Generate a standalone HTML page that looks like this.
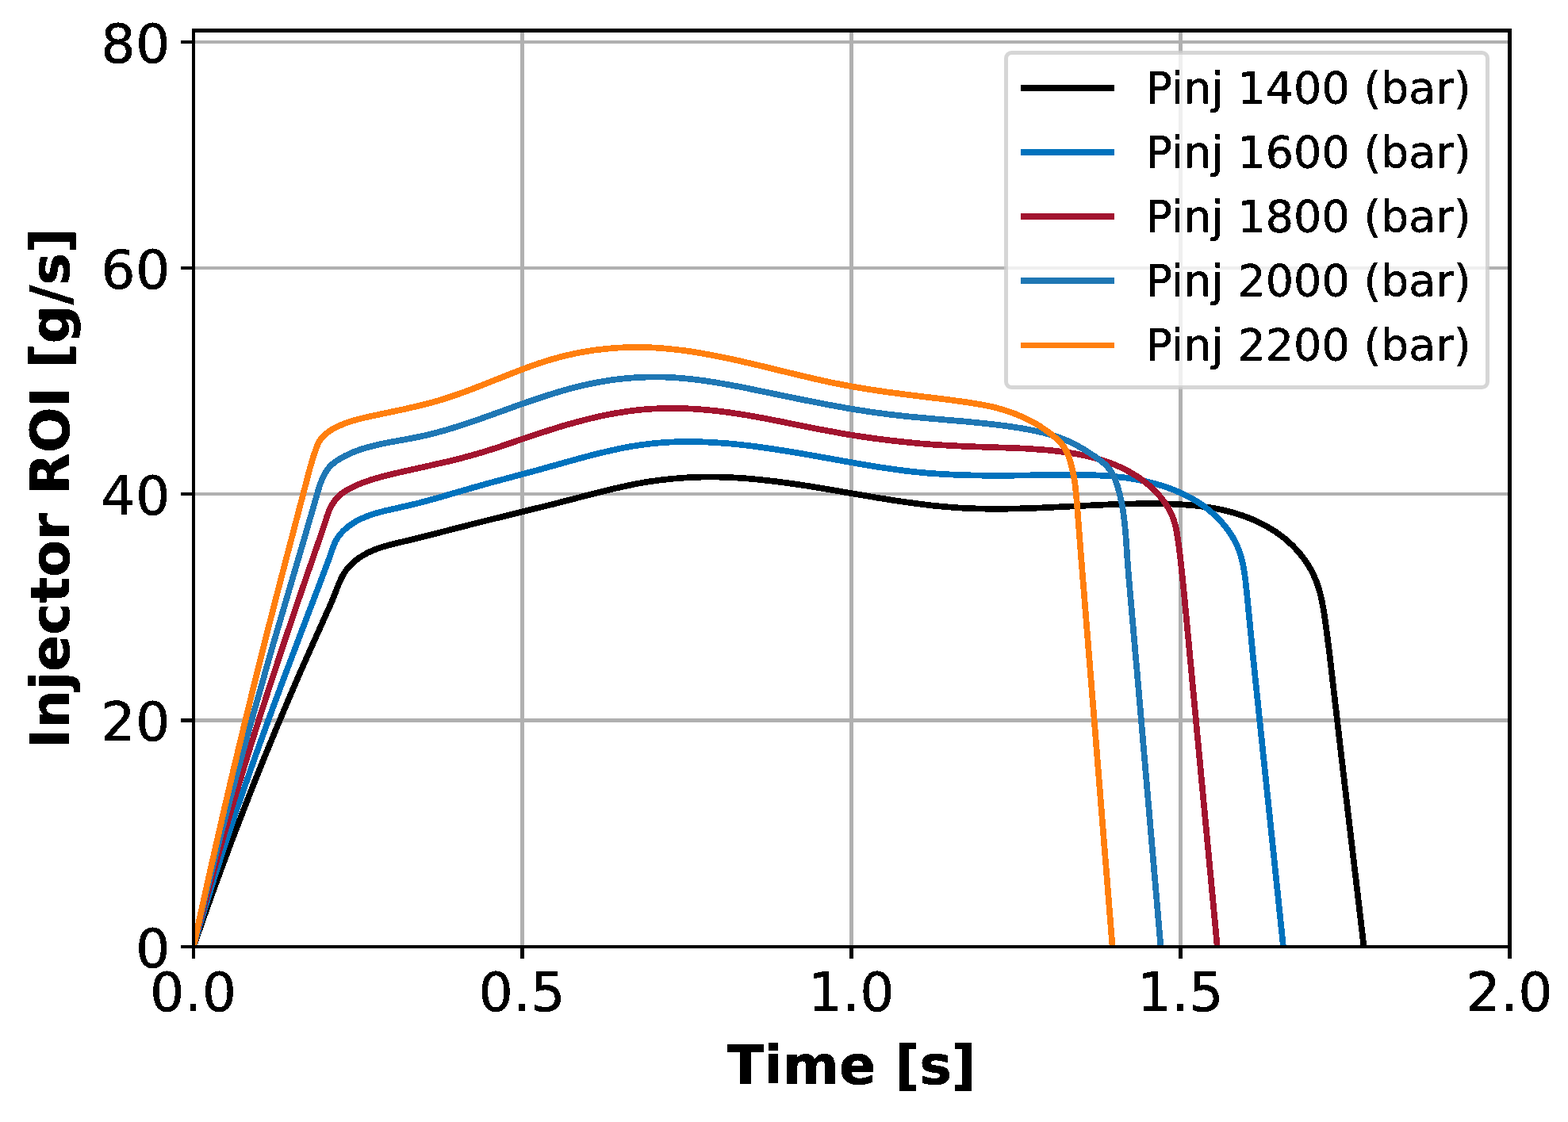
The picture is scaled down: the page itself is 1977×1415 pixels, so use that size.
<!DOCTYPE html>
<html lang="en"><head><meta charset="utf-8"><title>Injector ROI vs time</title>
<style>
html,body{margin:0;padding:0;background:#fff}
body{width:1977px;height:1415px;overflow:hidden}
svg{display:block}
text{font-family:"DejaVu Sans","Liberation Sans",sans-serif;fill:#000}
.b{font-weight:bold}
</style></head><body>
<svg width="1977" height="1415" viewBox="0 0 1977 1415" role="img" aria-label="Injector ROI [g/s] versus Time [s] for five injection pressures">
<rect width="1977" height="1415" fill="#fff"/>
<defs><filter id="hard" x="-5%" y="-20%" width="110%" height="140%" color-interpolation-filters="sRGB"><feComponentTransfer><feFuncA type="discrete" tableValues="0 1"/></feComponentTransfer></filter></defs>
<g fill="#b0b0b0" shape-rendering="crispEdges">
<rect x="656" y="36" width="5" height="1160"/>
<rect x="1071" y="36" width="5" height="1160"/>
<rect x="1486" y="36" width="5" height="1160"/>
<rect x="242" y="906" width="1664" height="5"/>
<rect x="242" y="621" width="1664" height="4"/>
<rect x="242" y="336" width="1664" height="4"/>
<rect x="242" y="51" width="1664" height="4"/>
</g>
<clipPath id="ax"><rect x="244.0" y="38.5" width="1659.5" height="1155.5"/></clipPath>
<g clip-path="url(#ax)" fill="none" stroke-width="7.7" stroke-linejoin="round" stroke-linecap="square" shape-rendering="crispEdges">
<path stroke="#000000" d="M244.0 1194.0L256.3 1158.6L268.4 1124.7L281.3 1089.5L293.9 1055.8L307.4 1020.8L320.5 987.3L333.9 953.9L347.6 920.6L363.3 883.3L379.3 846.1L392.7 816.0L417.2 761.3L421.2 751.6L426.7 737.5L429.7 730.6L431.7 726.6L433.2 724.0L436.4 719.1L440.1 714.5L442.2 712.4L445.4 709.3L448.8 706.5L453.6 703.0L458.7 699.8L464.0 696.9L469.5 694.4L475.1 692.2L480.8 690.2L486.6 688.5L496.8 685.8L517.4 680.9L533.4 677.0L581.1 664.7L604.2 658.8L697.5 635.8L752.7 621.5L771.6 616.8L789.1 612.9L803.7 609.9L818.5 607.4L833.4 605.3L848.3 603.7L864.8 602.4L879.8 601.7L896.3 601.5L905.2 601.6L915.7 601.9L935.1 602.9L956.0 604.7L978.3 607.2L999.2 610.0L1021.4 613.3L1045.2 617.3L1106.0 627.7L1125.3 630.8L1141.7 633.2L1161.0 635.8L1178.8 637.9L1195.2 639.4L1211.6 640.6L1228.0 641.3L1244.4 641.7L1262.3 641.8L1281.7 641.5L1298.2 641.0L1316.2 640.3L1376.2 637.3L1398.7 636.3L1419.7 635.6L1439.3 635.2L1458.8 635.2L1476.8 635.6L1491.8 636.4L1506.7 637.6L1515.6 638.7L1523.0 639.7L1530.4 640.9L1537.7 642.3L1545.0 644.0L1552.2 645.8L1559.3 647.9L1566.5 650.2L1573.5 652.8L1579.1 655.0L1585.9 658.1L1591.3 660.7L1597.9 664.3L1603.1 667.3L1608.2 670.6L1613.1 674.0L1619.1 678.6L1623.7 682.5L1629.2 687.6L1633.4 691.9L1638.5 697.6L1642.2 702.3L1645.8 707.1L1649.1 712.2L1652.2 717.3L1655.0 722.6L1657.5 728.0L1659.8 733.5L1661.8 739.1L1663.9 746.2L1665.4 752.0L1667.0 759.3L1668.9 769.6L1670.7 781.5L1673.5 802.4L1676.5 826.2L1691.0 951.3L1719.6 1194.0"/>
<path stroke="#0072bd" d="M244.0 1194.0L252.8 1163.8L262.0 1133.6L271.3 1103.6L281.4 1072.2L292.3 1039.5L303.4 1006.8L315.2 972.9L327.7 937.6L341.0 900.9L355.6 861.5L374.6 811.0L407.1 725.6L414.4 705.9L420.9 687.5L423.3 682.1L425.6 678.2L428.3 674.5L432.4 670.0L435.7 666.9L440.3 663.1L443.9 660.6L448.9 657.5L454.1 654.8L459.5 652.4L465.0 650.2L472.1 647.8L477.9 646.2L485.2 644.3L516.4 637.2L526.7 634.7L538.3 631.7L555.6 626.8L594.2 615.6L611.4 610.7L679.2 592.5L725.7 579.5L746.1 574.0L763.7 569.7L779.8 566.1L794.5 563.2L809.3 560.9L824.0 559.1L838.8 557.9L853.7 557.2L868.6 557.0L877.5 557.1L887.9 557.4L898.3 557.9L908.8 558.6L919.2 559.4L931.2 560.6L943.1 561.9L955.0 563.4L975.9 566.4L999.8 570.2L1023.6 574.3L1081.3 584.6L1110.7 589.5L1127.0 591.8L1141.7 593.8L1156.5 595.4L1169.9 596.7L1186.2 597.8L1202.7 598.7L1220.6 599.3L1240.1 599.7L1256.6 599.8L1276.2 599.7L1344.1 598.7L1357.6 598.7L1369.6 598.9L1383.1 599.4L1395.1 600.1L1406.9 601.1L1418.8 602.5L1427.6 603.8L1435.0 605.1L1443.7 606.9L1451.0 608.6L1459.7 611.0L1466.8 613.1L1473.9 615.6L1480.9 618.2L1487.8 621.2L1494.6 624.4L1501.2 627.8L1506.4 630.8L1512.7 634.8L1517.7 638.2L1522.5 641.9L1527.1 645.7L1531.6 649.7L1536.0 654.0L1540.1 658.4L1543.1 661.8L1546.8 666.5L1550.3 671.4L1553.6 676.4L1555.8 680.3L1558.5 685.6L1560.4 689.7L1562.0 693.8L1563.5 698.0L1564.8 702.3L1566.3 708.0L1567.6 713.9L1568.6 719.8L1570.3 731.7L1572.1 748.2L1579.8 827.2L1618.0 1194.0"/>
<path stroke="#a2142f" d="M244.0 1194.0L252.6 1160.6L261.9 1125.8L271.5 1091.1L281.7 1055.1L292.2 1019.1L303.4 981.8L315.3 943.1L327.5 904.4L343.6 854.5L361.1 801.8L381.8 740.7L403.8 677.1L412.8 649.8L414.9 644.1L417.4 638.7L418.9 636.2L420.5 633.7L422.2 631.3L424.1 629.0L426.1 626.8L428.2 624.8L431.6 621.9L435.2 619.4L440.4 616.4L445.8 613.7L452.7 610.6L459.7 607.9L468.2 605.0L478.3 602.0L491.4 598.6L509.0 594.5L563.1 582.4L580.5 578.1L596.4 573.8L609.3 570.0L625.0 565.1L671.9 549.2L691.9 542.7L710.5 536.9L727.9 532.0L743.8 527.9L759.9 524.2L774.5 521.4L789.3 519.0L804.1 517.1L817.5 515.9L831.0 515.2L846.0 514.9L855.1 515.0L864.1 515.2L873.1 515.6L883.6 516.3L892.6 517.1L903.1 518.2L913.6 519.4L924.0 520.9L941.7 523.6L962.3 527.3L981.4 531.0L1032.8 541.3L1060.8 546.5L1077.1 549.2L1095.0 551.9L1111.4 554.1L1129.3 556.2L1144.3 557.8L1160.7 559.4L1177.2 560.7L1193.6 561.7L1218.9 563.0L1278.5 565.0L1293.4 565.7L1306.9 566.6L1320.5 567.6L1332.5 568.9L1343.0 570.2L1353.5 571.8L1362.4 573.5L1369.7 575.0L1377.0 576.8L1384.2 578.8L1391.4 581.0L1398.4 583.4L1405.4 586.1L1412.2 589.0L1418.9 592.3L1424.2 595.1L1430.6 598.9L1435.7 602.1L1441.8 606.5L1446.5 610.2L1451.0 614.1L1455.4 618.2L1458.5 621.5L1461.6 624.8L1464.4 628.3L1467.2 631.9L1469.8 635.7L1472.3 639.5L1474.5 643.5L1476.6 647.5L1478.4 651.6L1479.5 654.4L1480.4 657.3L1481.7 661.5L1482.7 665.9L1483.6 670.3L1485.4 682.1L1487.4 696.9L1489.3 713.3L1491.2 731.2L1493.3 752.1L1506.3 890.9L1534.8 1194.0"/>
<path stroke="#1f77b4" d="M244.0 1194.0L252.2 1158.9L260.9 1122.5L270.3 1084.6L279.9 1046.9L290.2 1007.7L300.7 968.6L311.8 928.1L323.9 884.7L345.7 808.3L384.2 677.4L401.2 618.3L404.0 609.7L405.7 605.6L407.5 601.5L409.5 597.5L411.0 594.9L412.6 592.4L414.4 590.1L417.4 586.8L420.8 583.9L424.4 581.2L429.5 578.0L434.8 575.1L441.6 571.9L448.5 569.0L455.6 566.5L465.6 563.5L477.2 560.7L490.4 557.9L518.6 552.8L531.9 550.1L546.5 546.7L562.4 542.3L578.1 537.5L596.6 531.4L615.0 524.9L657.3 509.7L677.2 502.9L697.1 496.4L714.4 491.3L728.8 487.5L743.4 484.2L756.7 481.6L770.0 479.4L785.0 477.6L798.5 476.4L812.0 475.7L825.5 475.4L834.5 475.5L843.5 475.8L852.5 476.4L861.4 477.1L870.4 477.9L880.8 479.2L891.1 480.6L901.5 482.2L917.7 485.0L936.9 488.6L1010.4 503.8L1044.3 510.4L1060.5 513.4L1075.3 516.0L1090.0 518.3L1103.4 520.3L1124.1 523.0L1144.9 525.3L1165.8 527.2L1219.5 531.8L1248.0 534.7L1262.9 536.5L1276.4 538.3L1288.3 540.2L1300.2 542.4L1307.6 543.9L1314.9 545.6L1322.2 547.6L1327.9 549.3L1335.0 551.6L1340.5 553.7L1346.0 556.0L1351.4 558.4L1358.0 561.8L1364.5 565.5L1370.9 569.5L1379.8 575.3L1384.8 578.8L1389.7 582.5L1393.1 585.4L1396.2 588.6L1398.1 590.8L1399.9 593.2L1401.5 595.7L1403.7 599.5L1404.9 602.2L1406.7 606.3L1409.1 613.4L1411.9 623.6L1414.2 633.8L1416.2 645.6L1417.9 659.0L1419.4 675.4L1421.8 709.9L1423.7 733.8L1436.0 874.2L1463.5 1194.0"/>
<path stroke="#ff7f0e" d="M244.0 1194.0L253.5 1150.0L263.6 1104.6L273.5 1060.8L283.9 1015.5L294.5 970.2L305.4 925.0L316.4 879.8L327.6 834.7L339.3 788.2L351.6 740.3L390.7 590.8L394.9 576.4L398.8 565.0L401.1 559.5L402.4 556.8L404.0 554.4L406.8 551.0L410.0 547.9L413.5 545.1L417.2 542.5L422.5 539.5L427.9 536.9L433.4 534.5L439.1 532.4L449.1 529.4L459.2 526.8L471.0 524.2L509.2 516.1L529.6 511.4L545.6 507.3L559.9 503.1L575.5 497.9L592.4 491.8L607.8 485.8L645.5 470.8L663.7 463.8L680.7 457.8L696.5 452.9L709.5 449.4L722.7 446.3L736.0 443.7L749.4 441.6L762.8 440.0L776.3 438.8L789.7 438.1L803.2 437.9L812.2 438.0L822.6 438.4L831.5 438.9L841.9 439.8L852.3 440.9L862.6 442.1L873.0 443.6L883.3 445.3L903.9 449.1L927.4 454.0L953.8 460.1L1003.6 472.2L1025.6 477.4L1049.1 482.6L1069.7 486.6L1093.3 490.7L1118.4 494.4L1142.1 497.5L1197.1 504.3L1219.4 507.3L1235.8 510.0L1249.0 512.6L1256.3 514.4L1262.1 516.0L1269.3 518.2L1274.9 520.1L1282.0 522.8L1287.5 525.1L1294.3 528.3L1299.7 531.0L1306.2 534.6L1311.4 537.7L1317.6 541.9L1322.5 545.4L1327.2 549.1L1331.7 552.9L1336.0 557.0L1339.0 560.4L1340.7 562.7L1342.4 565.2L1343.8 567.7L1345.2 570.4L1347.5 576.0L1349.8 583.2L1352.1 591.9L1353.9 600.8L1355.5 611.1L1356.9 623.0L1357.9 634.9L1362.6 696.2L1375.5 856.2L1402.6 1194.0"/>
</g>
<g fill="#000" shape-rendering="crispEdges">
<rect x="242" y="1196" width="4" height="13"/>
<rect x="656" y="1196" width="5" height="13"/>
<rect x="1071" y="1196" width="5" height="13"/>
<rect x="1486" y="1196" width="5" height="13"/>
<rect x="1901" y="1196" width="5" height="13"/>
<rect x="228" y="1192" width="14" height="4"/>
<rect x="228" y="906" width="14" height="5"/>
<rect x="228" y="621" width="14" height="4"/>
<rect x="228" y="336" width="14" height="4"/>
<rect x="228" y="51" width="14" height="4"/>
<rect x="242" y="36" width="4" height="1160"/>
<rect x="1901" y="36" width="5" height="1160"/>
<rect x="242" y="36" width="1664" height="5"/>
<rect x="242" y="1192" width="1664" height="4"/>
</g>
<g font-size="68.2px" letter-spacing="0.3" filter="url(#hard)" stroke="#000" stroke-width="0.5">
<text x="243.7" y="1274.7" text-anchor="middle">0.0</text>
<text x="658.2" y="1274.7" text-anchor="middle">0.5</text>
<text x="1073.2" y="1274.7" text-anchor="middle">1.0</text>
<text x="1488.2" y="1274.7" text-anchor="middle">1.5</text>
<text x="1903.2" y="1274.7" text-anchor="middle">2.0</text>
<text x="214.7" y="1219.9" text-anchor="end">0</text>
<text x="214.7" y="934.4" text-anchor="end">20</text>
<text x="214.7" y="648.9" text-anchor="end">40</text>
<text x="214.7" y="363.9" text-anchor="end">60</text>
<text x="214.7" y="78.9" text-anchor="end">80</text>
</g>
<g filter="url(#hard)" stroke="#000" stroke-width="0.5"><text class="b" x="1073.9" y="1367.2" text-anchor="middle" font-size="68.3px">Time [s]</text></g>
<g filter="url(#hard)" stroke="#000" stroke-width="0.5"><text class="b" transform="translate(87.0 616.0) rotate(-90)" text-anchor="middle" font-size="68.1px">Injector ROI [g/s]</text></g>
<rect x="1268.5" y="66.5" width="607" height="422" rx="7" ry="7" fill="#fff" fill-opacity="0.8" stroke="#ccc" stroke-opacity="0.8" stroke-width="5"/>
<g shape-rendering="crispEdges">
<rect x="1287" y="107" width="118" height="8" fill="#000000"/>
<rect x="1287" y="188" width="118" height="8" fill="#0072bd"/>
<rect x="1287" y="269" width="118" height="8" fill="#a2142f"/>
<rect x="1287" y="350" width="118" height="8" fill="#1f77b4"/>
<rect x="1287" y="432" width="118" height="7" fill="#ff7f0e"/>
</g>
<g font-size="55.5px" filter="url(#hard)" stroke="#000" stroke-width="0.5">
<text x="1444.6" y="130.0">Pinj 1400 (bar)</text>
<text x="1444.6" y="211.1">Pinj 1600 (bar)</text>
<text x="1444.6" y="292.2">Pinj 1800 (bar)</text>
<text x="1444.6" y="373.3">Pinj 2000 (bar)</text>
<text x="1444.6" y="454.4">Pinj 2200 (bar)</text>
</g>
</svg></body></html>
